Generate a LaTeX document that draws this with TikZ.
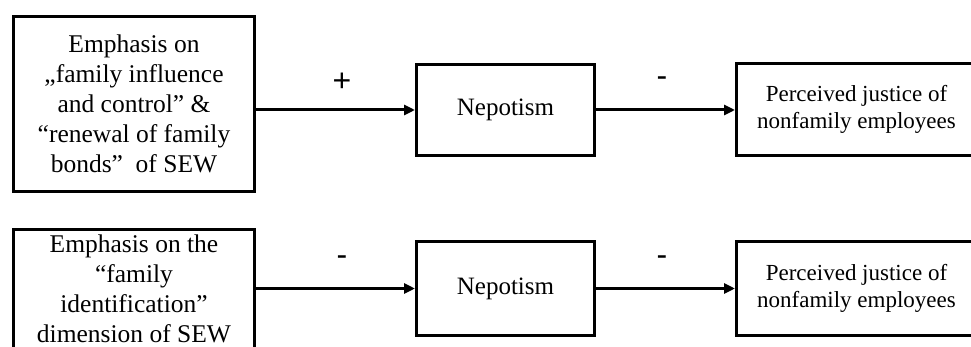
\documentclass[tikz,border=0pt]{standalone}
\usepackage{fontspec}
\setmainfont{Liberation Serif}
\newfontfamily\signfont{Liberation Sans}
\usetikzlibrary{arrows.meta}
\begin{document}
\begin{tikzpicture}[x=1pt,y=-1pt,
  box/.style={draw, line width=3pt, inner sep=0pt, align=center, fill=white},
  srcfont/.style={font=\fontsize{25.5}{30}\selectfont},
  srcbox/.style={box, minimum width=241pt, srcfont},
  srctext/.style={inner sep=0pt, align=center, srcfont},
  nepbox/.style={box, minimum width=178pt, font=\fontsize{25}{30}\selectfont},
  outbox/.style={box, minimum width=240pt, font=\fontsize{23}{26.5}\selectfont},
  link/.style={line width=3pt, -{Triangle[length=11pt,width=10pt]}},
  linkshade/.style={line width=3pt, draw=black!22, yshift=-3pt, shorten <=1.5pt, shorten >=12pt},
  sign/.style={inner sep=0pt, font=\signfont\fontsize{32}{32}\selectfont}
]
\useasboundingbox (0,0) rectangle (971,347);
\clip (0,0) rectangle (971,347);

% first chain
\node[srcbox, minimum height=175pt] (src1) at (134,104)
  {Emphasis on\\„family influence\\and control” \&\\“renewal of family\\bonds”~ of SEW};
\node[nepbox, minimum height=91pt] (nep1) at (505.5,110) {Nepotism};
\node[outbox, minimum height=92pt] (out1) at (856.5,109.5)
  {Perceived justice of\\nonfamily employees};

% second chain: the source box runs on below the lower edge
\node[srcbox, minimum height=140pt] (src2) at (134,299.5) {};
\node[srctext] (src2txt) at (134,289)
  {Emphasis on the\\“family\\identification”\\dimension of SEW};
\node[nepbox, minimum height=94pt] (nep2) at (505.5,288.5) {Nepotism};
\node[outbox, minimum height=94pt] (out2) at (856.5,288.5)
  {Perceived justice of\\nonfamily employees};

% soft shadows under the connectors
\draw[linkshade] (nep1.west -| src1.east) -- (nep1.west);
\draw[linkshade] (nep1.east) -- (out1.west |- nep1.east);
\draw[linkshade] (nep2.west -| src2.east) -- (nep2.west);
\draw[linkshade] (nep2.east) -- (out2.west |- nep2.east);

% connectors
\draw[link] (nep1.west -| src1.east) -- (nep1.west);
\draw[link] (nep1.east) -- (out1.west |- nep1.east);
\draw[link] (nep2.west -| src2.east) -- (nep2.west);
\draw[link] (nep2.east) -- (out2.west |- nep2.east);

% signs of the effects
\node[sign] (s1) at (342,82) {+};
\node[sign] (s2) at (662,82) {-};
\node[sign] (s3) at (342,261) {-};
\node[sign] (s4) at (662,261) {-};
\end{tikzpicture}
\end{document}
